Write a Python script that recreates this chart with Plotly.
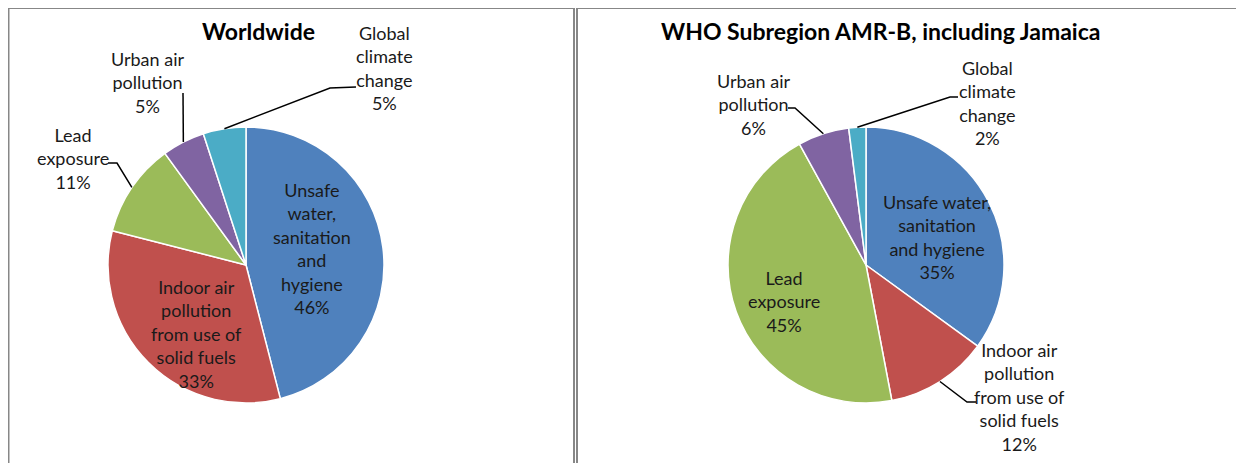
import math
import plotly.graph_objects as go

# ---------------- data ----------------
categories = [
    "Unsafe water, sanitation and hygiene",
    "Indoor air pollution from use of solid fuels",
    "Lead exposure",
    "Urban air pollution",
    "Global climate change",
]
worldwide_values = [46, 33, 11, 5, 5]
amrb_values = [35, 12, 45, 6, 2]

worldwide_labels = [
    "Unsafe<br>water,<br>sanitation<br>and<br>hygiene",
    "Indoor air<br>pollution<br>from use of<br>solid fuels",
    "Lead<br>exposure",
    "Urban air<br>pollution",
    "Global<br>climate<br>change",
]
amrb_labels = [
    "Unsafe water,<br>sanitation<br>and hygiene",
    "Indoor air<br>pollution<br>from use of<br>solid fuels",
    "Lead<br>exposure",
    "Urban air<br>pollution",
    "Global<br>climate<br>change",
]
titles = ["Worldwide", "WHO Subregion AMR-B, including Jamaica"]
colors = ["#4F81BD", "#C0504D", "#9BBB59", "#8064A2", "#4BACC6"]

# ---------------- layout helpers ----------------
W, H = 1244, 463
OFF = 8          # page body margin: figure is drawn 8px in from the window corner
R = 138
FONT = "Lato, 'Open Sans', sans-serif"
TXT = "#1a1a1a"


def px(x):
    return (x - OFF) / W


def py(y):
    return 1 - (y - OFF) / H


def edge_point(values, idx, cx, cy, r):
    total = sum(values)
    cum = sum(values[:idx]) + values[idx] / 2
    th = 2 * math.pi * cum / total
    return cx + r * math.sin(th), cy - r * math.cos(th)


panels = [
    dict(values=worldwide_values, labels=worldwide_labels, cx=246, cy=265,
         title_pos=(258, 31),
         label_pos=[(312, 248), (196, 334), (73, 158), (147, 83), (384, 68)],
         leaders={2: [(108, 163), (117, 163)], 3: [(183, 93)],
                  4: [(356, 87), (330, 88)]}),
    dict(values=amrb_values, labels=amrb_labels, cx=866, cy=265,
         title_pos=(880, 31),
         label_pos=[(937, 237), (1019, 397), (784, 301), (753, 104), (987, 103)],
         leaders={1: [(976, 402), (967, 402)], 3: [(788, 108), (795, 108)],
                  4: [(958, 97), (950, 97)]}),
]

fig = go.Figure()
annotations = []
shapes = []

for i, p in enumerate(panels):
    cx, cy = p["cx"], p["cy"]
    fig.add_trace(go.Pie(
        labels=categories,
        values=p["values"],
        sort=False,
        direction="clockwise",
        rotation=0,
        marker=dict(colors=colors, line=dict(color="white", width=1.5)),
        textinfo="none",
        hoverinfo="label+percent",
        showlegend=False,
        domain=dict(x=[px(cx - R), px(cx + R)], y=[py(cy + R), py(cy - R)]),
    ))
    annotations.append(dict(
        x=px(p["title_pos"][0]), y=py(p["title_pos"][1]), xref="paper", yref="paper",
        text="<b>" + titles[i] + "</b>", showarrow=False,
        font=dict(family=FONT, size=23, color="#000000"),
        xanchor="center", yanchor="middle",
    ))
    for j, (lab, v) in enumerate(zip(p["labels"], p["values"])):
        lx, ly = p["label_pos"][j]
        annotations.append(dict(
            x=px(lx), y=py(ly), xref="paper", yref="paper",
            text=f"{lab}<br>{v}%", showarrow=False,
            font=dict(family=FONT, size=18, color=TXT),
            xanchor="center", yanchor="middle", align="center",
        ))
    for j, pts in p["leaders"].items():
        ex, ey = edge_point(p["values"], j, cx, cy, R)
        allpts = pts + [(ex, ey)]
        path = "M " + " L ".join(f"{px(x):.5f},{py(y):.5f}" for x, y in allpts)
        shapes.append(dict(type="path", path=path, xref="paper", yref="paper",
                           line=dict(color="#000000", width=1.5)))

# panel borders
border = dict(color="#878787", width=2)
shapes.append(dict(type="path", xref="paper", yref="paper",
                   path=f"M {px(8.5)},{py(480)} L {px(8.5)},{py(8)} L {px(574)},{py(8)} L {px(574)},{py(480)}",
                   line=border))
shapes.append(dict(type="path", xref="paper", yref="paper",
                   path=f"M {px(577)},{py(480)} L {px(577)},{py(8)} L {px(1260)},{py(8)}",
                   line=border))

fig.update_layout(
    width=W, height=H,
    margin=dict(l=0, r=0, t=0, b=0),
    paper_bgcolor="white",
    plot_bgcolor="white",
    annotations=annotations,
    shapes=shapes,
)

fig.write_html("out.html")
